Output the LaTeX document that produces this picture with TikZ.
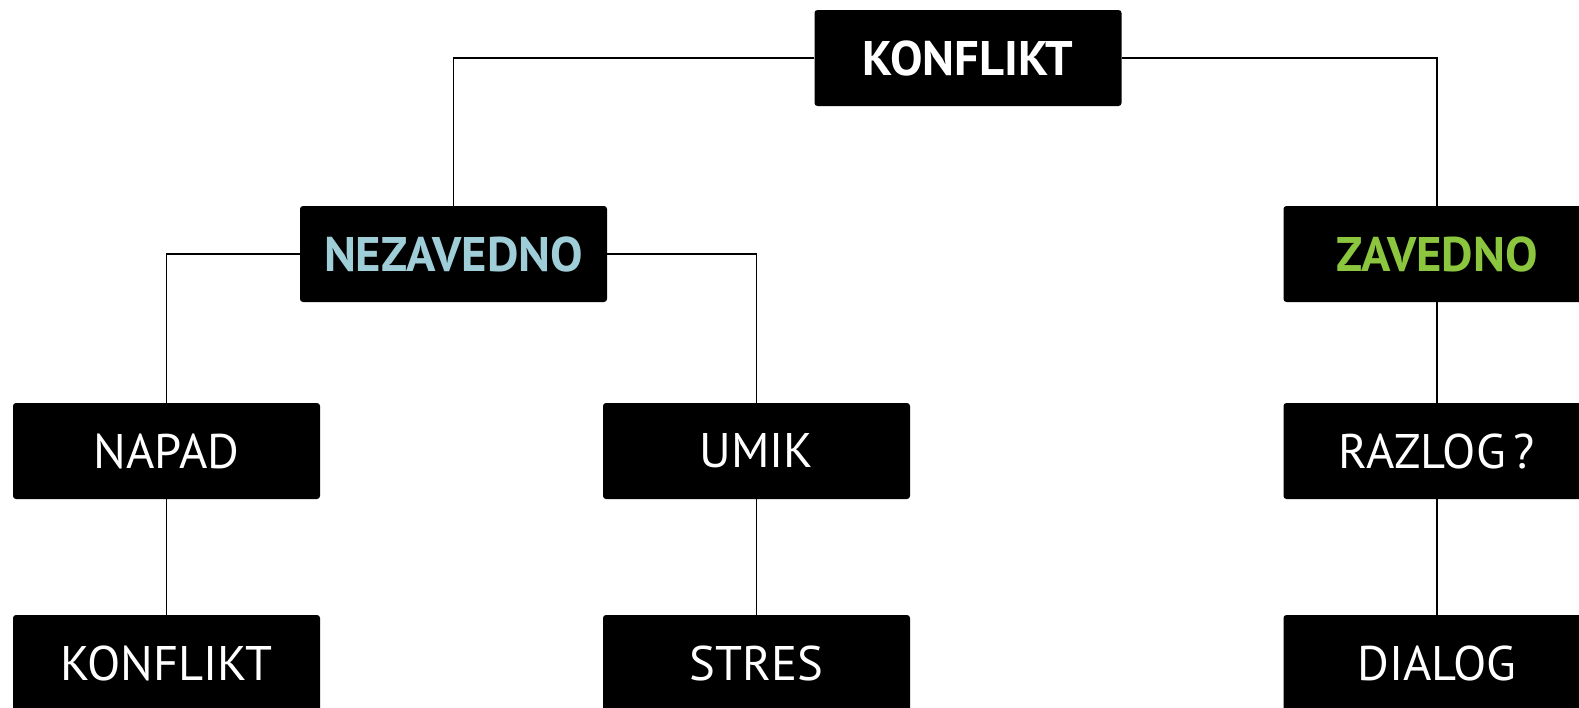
\documentclass[tikz,border=0pt]{standalone}
\usepackage{fontspec}
\setmainfont{PT Sans}
\begin{document}
\begin{tikzpicture}[x=1pt,y=-1pt,
  box/.style={fill=black,rounded corners=3pt,minimum width=307pt,minimum height=96pt,inner sep=0pt,text=white,font=\fontsize{48.6}{56}\selectfont},
  boldbox/.style={box,font=\fontsize{48.6}{56}\selectfont\bfseries},
  link/.style={line width=1.8pt,black}]
\definecolor{nezcol}{RGB}{160,206,216}
\definecolor{zavcol}{RGB}{140,198,63}
\useasboundingbox (0,0) rectangle (1579,707);
\clip (0,0) rectangle (1579,707);
\node[boldbox] (top) at (968,58) {KONFLIKT};
\node[boldbox,text=nezcol] (nez) at (453.5,254) {NEZAVEDNO};
\node[boldbox,text=zavcol] (zav) at (1437,254) {ZAVEDNO};
\node[box] (napad) at (166.5,451) {NAPAD};
\node[box] (umik) at (756.5,451) {UMIK};
\node[box] (razlog) at (1437,451) {RAZLOG\,?};
\node[box] (konf) at (166.5,663) {KONFLIKT};
\node[box] (stres) at (756.5,663) {STRES};
\node[box] (dialog) at (1437,663) {DIALOG};
\draw[link] (top.west) -| (nez.north);
\draw[link] (top.east) -| (zav.north);
\draw[link] (nez.west) -| (napad.north);
\draw[link] (nez.east) -| (umik.north);
\draw[link] (zav.south) -- (razlog.north);
\draw[link] (napad.south) -- (konf.north);
\draw[link] (umik.south) -- (stres.north);
\draw[link] (razlog.south) -- (dialog.north);
\end{tikzpicture}
\end{document}
